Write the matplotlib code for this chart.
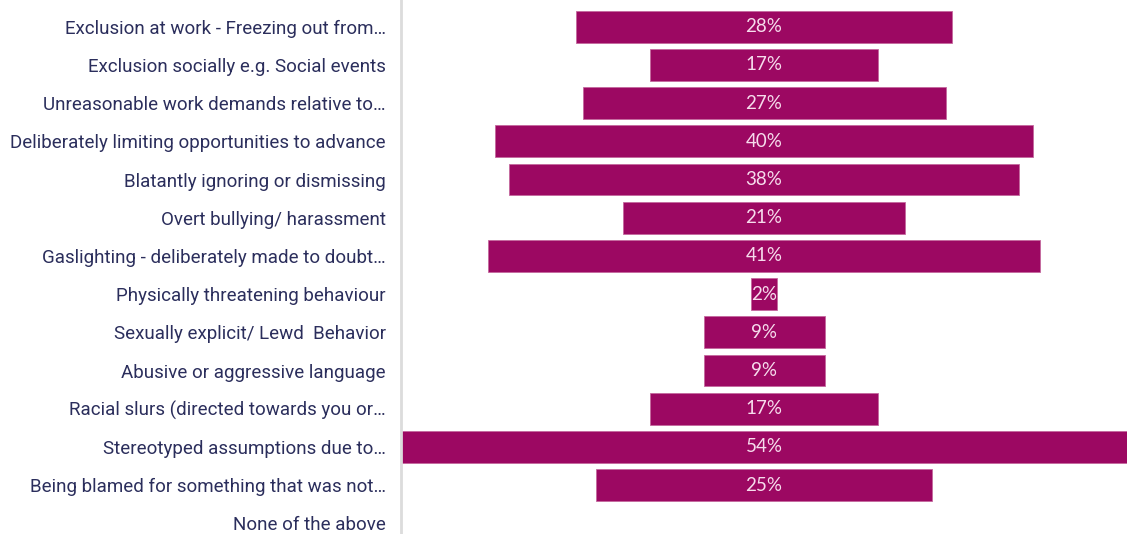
import matplotlib

matplotlib.use("Agg")

import matplotlib.pyplot as plt

CATEGORIES = [
    "Exclusion at work - Freezing out from…",
    "Exclusion socially e.g. Social events",
    "Unreasonable work demands relative to…",
    "Deliberately limiting opportunities to advance",
    "Blatantly ignoring or dismissing",
    "Overt bullying/ harassment",
    "Gaslighting - deliberately made to doubt…",
    "Physically threatening behaviour",
    "Sexually explicit/ Lewd  Behavior",
    "Abusive or aggressive language",
    "Racial slurs (directed towards you or…",
    "Stereotyped assumptions due to…",
    "Being blamed for something that was not…",
    "None of the above",
]
VALUES = [28, 17, 27, 40, 38, 21, 41, 2, 9, 9, 17, 54, 25, 0]

BAR_COLOR = "#9c0862"
LABEL_COLOR = "#2b2e5c"
VALUE_COLOR = "#f6dcec"

fig = plt.figure(figsize=(11.27, 5.34), dpi=100)
ax = fig.add_axes([401 / 1127, 0, 726 / 1127, 1])

rows = list(range(len(CATEGORIES)))
# centred bars: each bar spans -v/2 .. v/2
for i, v in enumerate(VALUES):
    if v <= 0:
        continue
    ax.barh(i, v, left=-v / 2, height=0.83, color=BAR_COLOR,
            edgecolor="#c4689e", linewidth=0.6)
    ax.text(0, i, f"{v}%", ha="center", va="center",
            color=VALUE_COLOR, fontsize=13.5, family="Lato")

ax.set_xlim(-27.0, 27.0)
ax.set_ylim(13.28, -0.70)
ax.set_xticks([])
ax.set_yticks(rows)
ax.set_yticklabels(CATEGORIES, fontsize=13.5, color=LABEL_COLOR, family="Roboto")
ax.tick_params(axis="y", length=0, pad=11)

for side in ("top", "right", "bottom"):
    ax.spines[side].set_visible(False)
ax.spines["left"].set_color("#dcdcdc")
ax.spines["left"].set_linewidth(2)

fig.savefig("out.png", dpi=100)
plt.close(fig)
